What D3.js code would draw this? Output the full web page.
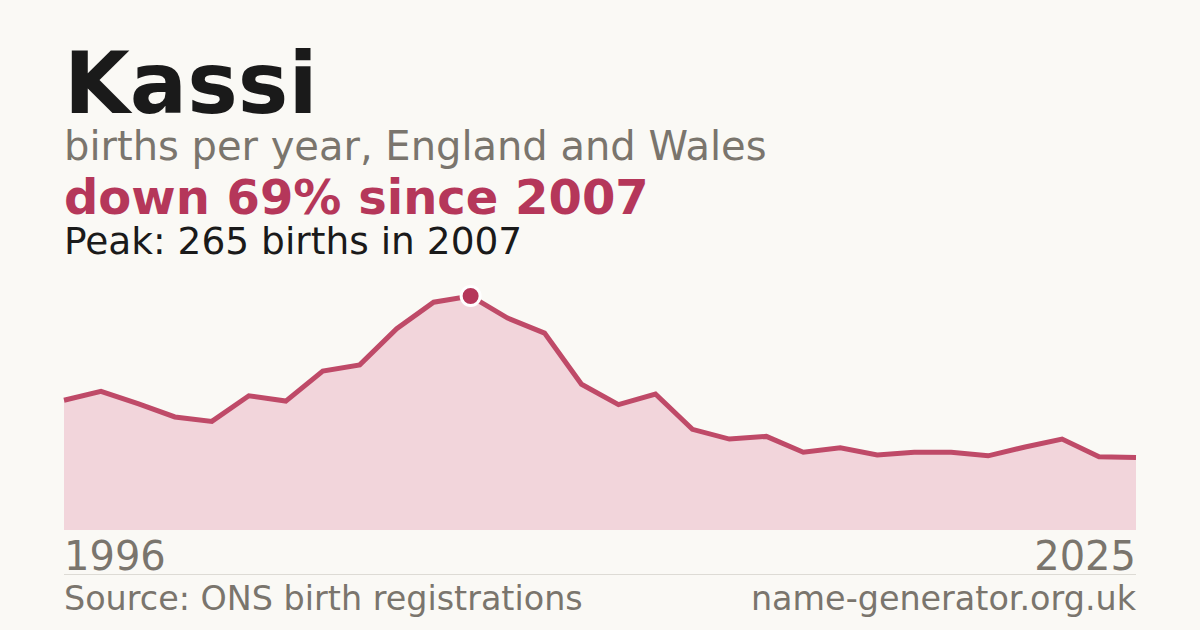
<!DOCTYPE html>
<html>
<head>
<meta charset="utf-8">
<script src="https://cdn.jsdelivr.net/npm/d3@7"></script>
<style>
  html, body { margin: 0; padding: 0; background: #faf9f5; }
  svg { display: block; }
  text { font-family: "DejaVu Sans", sans-serif; }
</style>
</head>
<body>
<svg id="chart" width="1200" height="630"></svg>
<script>
const years = [1996,1997,1998,1999,2000,2001,2002,2003,2004,2005,2006,2007,2008,2009,2010,2011,2012,2013,2014,2015,2016,2017,2018,2019,2020,2021,2022,2023,2024,2025];
const births = [147,157,143,128,123,152,146,180,187,228,258,265,240,223,165,142,154,114,103,106,88,93,85,88,88,84,94,103,83,82];
const titleText = "Kassi";
const subtitleText = "births per year, England and Wales";
const changeText = "down 69% since 2007";
const peakText = "Peak: 265 births in 2007";
const xTickLabels = ["1996", "2025"];
const sourceText = "Source: ONS birth registrations";
const siteText = "name-generator.org.uk";

(function () {
const svg = d3.select("#chart");
const W = 1200, H = 630;
const mLeft = 64, mRight = 1136, mTop = 296, mBottom = 530;

svg.append("rect").attr("width", W).attr("height", H).attr("fill", "#faf9f5");

const data = years.map((yr, i) => ({year: yr, value: births[i]}));
const x = d3.scaleLinear().domain(d3.extent(years)).range([mLeft, mRight]);
const y = d3.scaleLinear().domain([0, d3.max(births)]).range([mBottom, mTop]);

svg.append("path")
  .datum(data)
  .attr("fill", "#f2d5db")
  .attr("d", d3.area().x(d => x(d.year)).y0(mBottom).y1(d => y(d.value)));

svg.append("path")
  .datum(data)
  .attr("fill", "none")
  .attr("stroke", "#bf4a68")
  .attr("stroke-width", 5)
  .attr("stroke-linejoin", "miter")
  .attr("d", d3.line().x(d => x(d.year)).y(d => y(d.value)));

const peak = data.reduce((a, b) => b.value > a.value ? b : a);
svg.append("circle")
  .attr("cx", x(peak.year)).attr("cy", y(peak.value)).attr("r", 9.5)
  .attr("fill", "#b5375a").attr("stroke", "#ffffff").attr("stroke-width", 3);

svg.append("text").attr("x", 64).attr("y", 113)
  .attr("font-size", 85).attr("font-weight", "bold").attr("fill", "#1a1a1a").text(titleText);
svg.append("text").attr("x", 64).attr("y", 160)
  .attr("font-size", 40).attr("fill", "#7a756d").text(subtitleText);
svg.append("text").attr("x", 64).attr("y", 214)
  .attr("font-size", 48).attr("font-weight", "bold").attr("fill", "#b5375a").text(changeText);
svg.append("text").attr("x", 64).attr("y", 254)
  .attr("font-size", 37.5).attr("fill", "#1a1a1a").text(peakText);

svg.append("text").attr("x", x(years[0])).attr("y", 570)
  .attr("font-size", 40).attr("fill", "#7a756d").text(xTickLabels[0]);
svg.append("text").attr("x", x(years[years.length - 1])).attr("y", 570)
  .attr("text-anchor", "end").attr("font-size", 40).attr("fill", "#7a756d").text(xTickLabels[1]);

svg.append("line").attr("x1", mLeft).attr("x2", mRight).attr("y1", 574.5).attr("y2", 574.5)
  .attr("stroke", "#dddbd5").attr("stroke-width", 1);

svg.append("text").attr("x", 64).attr("y", 610)
  .attr("font-size", 33.4).attr("fill", "#7a756d").text(sourceText);
svg.append("text").attr("x", 1136).attr("y", 610).attr("text-anchor", "end")
  .attr("font-size", 33.4).attr("fill", "#7a756d").text(siteText);
})();
</script>
</body>
</html>
